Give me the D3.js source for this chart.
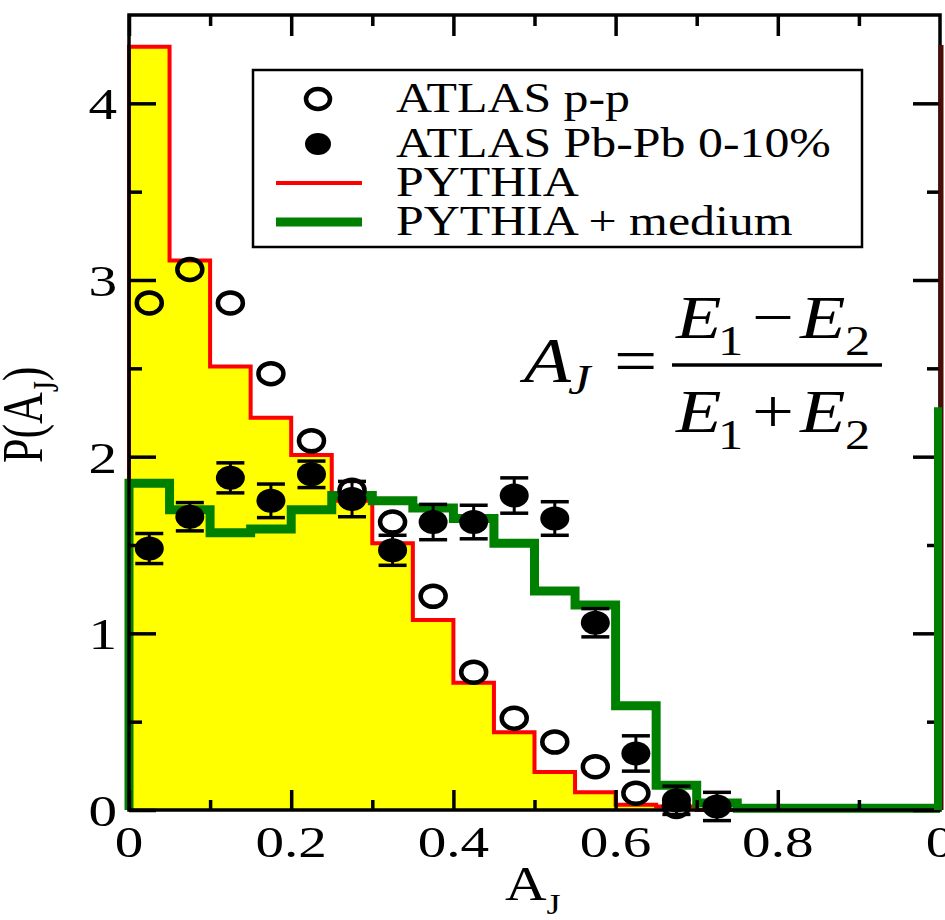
<!DOCTYPE html>
<html>
<head>
<meta charset="utf-8">
<script src="https://cdn.jsdelivr.net/npm/d3@7"></script>
<style>
  body { margin: 0; background: #fff; }
  svg { display: block; }
  text { font-family: "Liberation Serif", "Times New Roman", Times, serif; fill: #000; }
</style>
</head>
<body>
<svg id="chart" width="945" height="920"></svg>
<script>
// histogram bins (left edges, width 0.05)
const binEdges = [0, 0.05, 0.1, 0.15, 0.2, 0.25, 0.3, 0.35, 0.4, 0.45, 0.5, 0.55, 0.6, 0.65, 0.7, 0.75, 0.8, 0.85, 0.9, 0.95];
const pythia = [4.32, 3.11, 2.51, 2.22, 2.01, 1.75, 1.51, 1.075, 0.72, 0.44, 0.215, 0.10, 0.03, 0.02, 0, 0, 0, 0, 0, 0];
const pythiaMedium = [1.85, 1.70, 1.57, 1.59, 1.70, 1.78, 1.75, 1.71, 1.65, 1.51, 1.24, 1.16, 0.59, 0.14, 0.04, 0.01, 0.01, 0.01, 0.01, 0.01];

// ATLAS data points
const ppCenters = [0.025, 0.075, 0.125, 0.175, 0.225, 0.275, 0.325, 0.375, 0.425, 0.475, 0.525, 0.575, 0.625, 0.675];
const ppValues = [2.87, 3.06, 2.87, 2.47, 2.09, 1.81, 1.63, 1.21, 0.78, 0.52, 0.385, 0.245, 0.095, 0.02];
const pbCenters = [0.025, 0.075, 0.125, 0.175, 0.225, 0.275, 0.325, 0.375, 0.425, 0.475, 0.525, 0.575, 0.625, 0.675, 0.725];
const pbValues = [1.48, 1.66, 1.88, 1.75, 1.90, 1.76, 1.47, 1.63, 1.63, 1.78, 1.65, 1.06, 0.32, 0.055, 0.02];
const pbErrors = [0.085, 0.08, 0.085, 0.095, 0.075, 0.1, 0.085, 0.1, 0.095, 0.1, 0.095, 0.08, 0.1, 0.08, 0.08];

// ticks
const xMajorTicks = [0, 0.2, 0.4, 0.6, 0.8];
const xMinorTicks = [0.1, 0.3, 0.5, 0.7, 0.9];
const yMajorTicks = [0, 1, 2, 3, 4];
const yMinorTicks = [0.5, 1.5, 2.5, 3.5];

const legendLabels = ["ATLAS p-p", "ATLAS Pb-Pb 0-10%", "PYTHIA", "PYTHIA + medium"];

// first bin of the neighbouring panel, cut by the right edge
const nextPanelPythia = 4.33;
const nextPanelMedium = 2.28;
const nextPanelTickLabel = "0";

const svg = d3.select("#chart");
const x = d3.scaleLinear().domain([0, 1]).range([129, 940]);
const y = d3.scaleLinear().domain([0, 4.5]).range([810, 15]);

const histPoints = vals => [[0, 0], ...binEdges.map((e, i) => [e, vals[i]]), [1, vals[vals.length - 1]]];

const stepLine = d3.line().curve(d3.curveStepAfter).x(d => x(d[0])).y(d => y(d[1]));
const stepArea = d3.area().curve(d3.curveStepAfter).x(d => x(d[0])).y0(y(0)).y1(d => y(d[1]));

const plot = svg.append("g");

// PYTHIA, filled yellow
plot.append("path")
    .attr("d", stepArea(histPoints(pythia)))
    .attr("fill", "#ffff00");

plot.append("path")
    .attr("d", stepLine(histPoints(pythia)))
    .attr("fill", "none")
    .attr("stroke", "#ff0000")
    .attr("stroke-width", 4);

// PYTHIA + medium
plot.append("path")
    .attr("d", stepLine(histPoints(pythiaMedium)))
    .attr("fill", "none")
    .attr("stroke", "#008000")
    .attr("stroke-width", 9);

// ATLAS p-p open circles
plot.selectAll(".pp")
    .data(ppCenters.map((c, i) => ({c, v: ppValues[i]})))
    .join("ellipse")
    .attr("class", "pp")
    .attr("cx", d => x(d.c))
    .attr("cy", d => y(d.v))
    .attr("rx", 12.5)
    .attr("ry", 10.5)
    .attr("fill", "none")
    .attr("stroke", "#000")
    .attr("stroke-width", 4.5);

// ATLAS Pb-Pb with error bars
const pb = plot.selectAll(".pb")
    .data(pbCenters.map((c, i) => ({c, v: pbValues[i], e: pbErrors[i]})))
    .join("g")
    .attr("class", "pb")
    .attr("transform", d => `translate(${x(d.c)},0)`);

pb.append("line")
    .attr("y1", d => y(d.v - d.e)).attr("y2", d => y(d.v + d.e))
    .attr("stroke", "#000").attr("stroke-width", 3);
pb.selectAll(".cap")
    .data(d => [d.v - d.e, d.v + d.e])
    .join("line")
    .attr("class", "cap")
    .attr("x1", -14).attr("x2", 14)
    .attr("y1", d => y(d)).attr("y2", d => y(d))
    .attr("stroke", "#000").attr("stroke-width", 3.5);
pb.append("ellipse")
    .attr("cy", d => y(d.v))
    .attr("rx", 14.5)
    .attr("ry", 12)
    .attr("fill", "#000");

// frame
svg.append("rect")
    .attr("x", x(0)).attr("y", y(4.5))
    .attr("width", x(1) - x(0)).attr("height", y(0) - y(4.5))
    .attr("fill", "none").attr("stroke", "#000").attr("stroke-width", 3.5);

// ticks, pointing inward on all four sides
const drawTicks = (axis, transform, values, size) => {
    const g = svg.append("g")
        .attr("transform", transform)
        .call(axis.tickValues(values).tickSize(size).tickFormat(""));
    g.select(".domain").remove();
    g.selectAll("line").attr("stroke", "#000").attr("stroke-width", 3.5);
    g.selectAll("text").remove();
};

drawTicks(d3.axisBottom(x), `translate(0,${y(0)})`, xMajorTicks, -20);
drawTicks(d3.axisBottom(x), `translate(0,${y(0)})`, xMinorTicks, -10);
drawTicks(d3.axisTop(x), `translate(0,${y(4.5)})`, xMajorTicks, -21);
drawTicks(d3.axisTop(x), `translate(0,${y(4.5)})`, xMinorTicks, -11);
drawTicks(d3.axisLeft(y), `translate(${x(0)},0)`, yMajorTicks, -27);
drawTicks(d3.axisLeft(y), `translate(${x(0)},0)`, yMinorTicks, -13);
drawTicks(d3.axisRight(y), `translate(${x(1)},0)`, yMajorTicks, -27);
drawTicks(d3.axisRight(y), `translate(${x(1)},0)`, yMinorTicks, -13);

// neighbouring panel edge, drawn over the frame
svg.append("line")
    .attr("x1", x(1) + 1).attr("x2", x(1) + 1)
    .attr("y1", y(0)).attr("y2", y(nextPanelPythia))
    .attr("stroke", "#4a0c06").attr("stroke-width", 5);
svg.append("line")
    .attr("x1", x(1) - 2).attr("x2", x(1) - 2)
    .attr("y1", y(0)).attr("y2", y(nextPanelMedium))
    .attr("stroke", "#008000").attr("stroke-width", 8);

// tick labels
svg.selectAll(".xlab")
    .data(xMajorTicks)
    .join("text")
    .attr("class", "xlab")
    .attr("transform", d => `translate(${x(d)},857) scale(1.3,1)`)
    .attr("text-anchor", "middle")
    .attr("font-size", 44)
    .text(d => d === 0 ? "0" : d.toFixed(1));

svg.append("text")
    .attr("transform", `translate(${x(1)},857) scale(1.3,1)`)
    .attr("text-anchor", "middle")
    .attr("font-size", 44)
    .text(nextPanelTickLabel);

svg.selectAll(".ylab")
    .data(yMajorTicks)
    .join("text")
    .attr("class", "ylab")
    .attr("transform", d => `translate(117,${y(d) + 16}) scale(1.3,1)`)
    .attr("text-anchor", "end")
    .attr("font-size", 44)
    .text(d => d);

// axis titles
const xTitle = svg.append("text")
    .attr("transform", "translate(505,900) scale(1.2,1)")
    .attr("font-size", 48);
xTitle.append("tspan").text("A");
xTitle.append("tspan").attr("font-size", 30).attr("dy", 14).text("J");

const yTitle = svg.append("text")
    .attr("transform", "translate(42,463) scale(1.3,1) rotate(-90)")
    .attr("font-size", 44);
yTitle.append("tspan").text("P(A");
yTitle.append("tspan").attr("font-size", 28).attr("dy", 12).text("J");
yTitle.append("tspan").attr("dy", -12).text(")");

// legend
const legend = svg.append("g");
legend.append("rect")
    .attr("x", 253).attr("y", 70)
    .attr("width", 609).attr("height", 177)
    .attr("fill", "#fff").attr("stroke", "#000").attr("stroke-width", 2.5);

const rowY = [99, 144, 183, 222];
legend.append("ellipse")
    .attr("cx", 318).attr("cy", rowY[0]).attr("rx", 12).attr("ry", 10)
    .attr("fill", "none").attr("stroke", "#000").attr("stroke-width", 4.5);
legend.append("ellipse")
    .attr("cx", 318).attr("cy", rowY[1]).attr("rx", 13).attr("ry", 11)
    .attr("fill", "#000");
legend.append("line")
    .attr("x1", 276).attr("x2", 362).attr("y1", rowY[2]).attr("y2", rowY[2])
    .attr("stroke", "#ff0000").attr("stroke-width", 4);
legend.append("line")
    .attr("x1", 276).attr("x2", 362).attr("y1", rowY[3]).attr("y2", rowY[3])
    .attr("stroke", "#008000").attr("stroke-width", 9);

legend.selectAll(".leg-text")
    .data(legendLabels)
    .join("text")
    .attr("class", "leg-text")
    .attr("transform", (d, i) => `translate(396,${rowY[i] + 13}) scale(1.16,1)`)
    .attr("font-size", 43)
    .text(d => d);

// formula A_J = (E1 - E2)/(E1 + E2)
const formula = svg.append("g");
const piece = (txt, px, py, size, italic) => formula.append("text")
    .attr("transform", `translate(${px},${py}) scale(1.2,1)`)
    .attr("font-size", size)
    .attr("font-style", italic ? "italic" : "normal")
    .text(txt);

piece("A", 524, 382, 64, true);
piece("J", 568, 394, 42, true);
piece("=", 614, 382, 64, false);
formula.append("line")
    .attr("x1", 672).attr("x2", 882).attr("y1", 365).attr("y2", 365)
    .attr("stroke", "#000").attr("stroke-width", 3.5);
piece("E", 676, 338, 62, true);
piece("1", 718, 355, 42, false);
piece("\u2212", 752, 338, 62, false);
piece("E", 800, 338, 62, true);
piece("2", 845, 355, 42, false);
piece("E", 676, 432, 62, true);
piece("1", 718, 449, 42, false);
piece("+", 752, 432, 62, false);
piece("E", 800, 432, 62, true);
piece("2", 845, 449, 42, false);
</script>
</body>
</html>
